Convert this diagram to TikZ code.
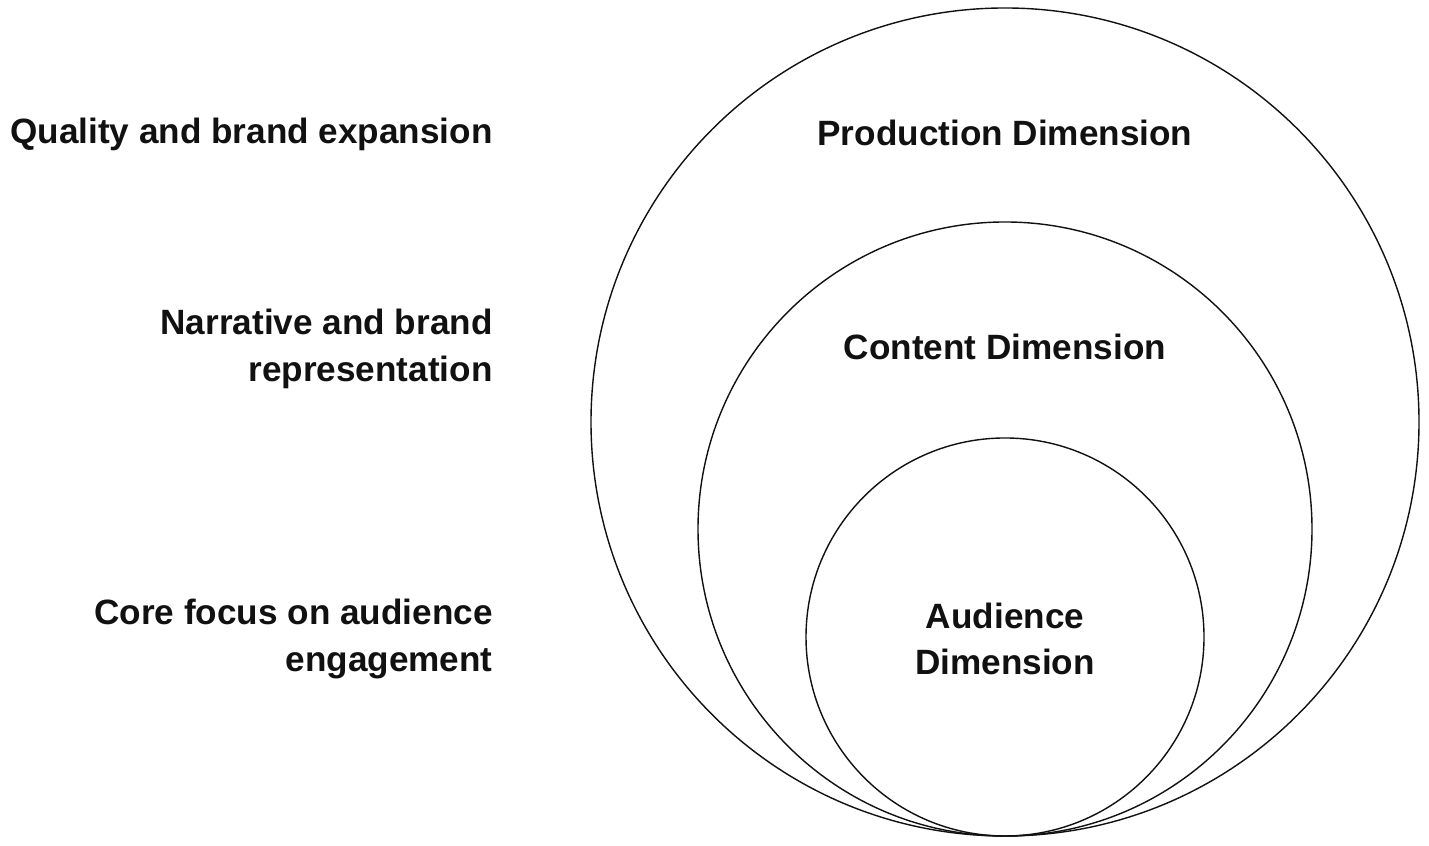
\documentclass[tikz,border=0pt]{standalone}
\usepackage{fontspec}
\setmainfont{Liberation Sans}
\usepackage{xcolor}
\usepackage{tikz}
\usetikzlibrary{positioning}
\definecolor{inkx}{HTML}{111111}
\tikzset{
  ring/.style={draw=inkx,circle,line width=0.8pt,inner sep=0pt},
  lbl/.style={font=\bfseries\fontsize{20}{26.4}\selectfont,text=inkx,inner sep=0pt},
  side/.style={lbl,align=right,anchor=east},
  dim/.style={lbl,align=center}
}
\begin{document}
\begin{tikzpicture}[x=0.2mm,y=0.2mm]
\useasboundingbox (0,0) rectangle (1429,846);
\node[ring,minimum size=165.6mm] (outer) at (1005,424) {};
\node[ring,minimum size=122.8mm] (middle) at (1005,317) {};
\node[ring,minimum size=79.6mm] (inner) at (1005,209) {};
\node[dim] (prod) at (1005,713) {Production Dimension};
\node[dim] (cont) at (1005,499) {Content Dimension};
\node[dim] (aud) at (1005,207) {Audience\\Dimension};
\node[side] (quality) at (493,712) {Quality and brand expansion};
\node[side] (narr) at (493,497) {Narrative and brand\\representation};
\node[side] (core) at (493,207) {Core focus on audience\\engagement};
\end{tikzpicture}
\end{document}
